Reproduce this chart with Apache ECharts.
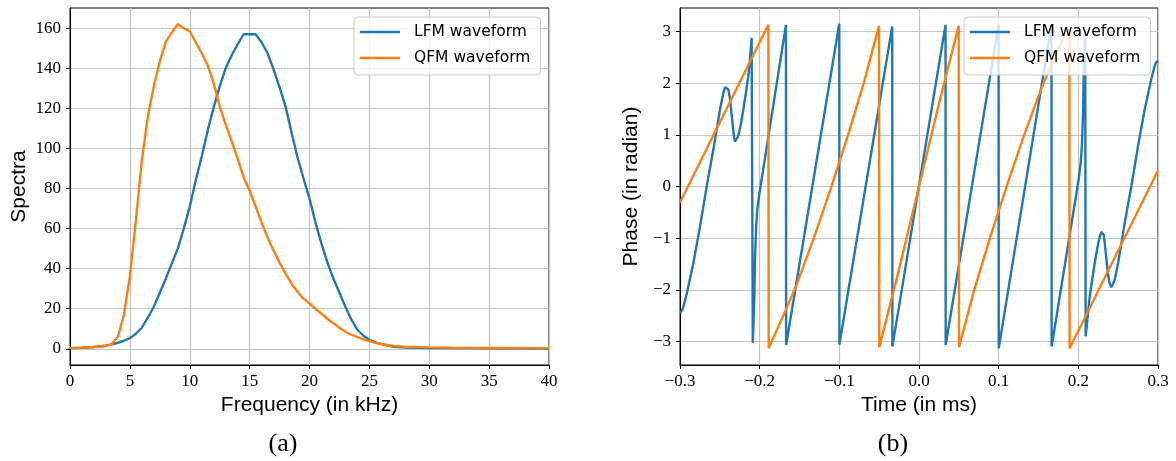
<!DOCTYPE html>
<html>
<head>
<meta charset="utf-8">
<script src="https://cdn.jsdelivr.net/npm/echarts@6/dist/echarts.min.js"></script>
<style>
html,body{margin:0;padding:0;background:#fff;}
#chart{width:1176px;height:461px;}
</style>
</head>
<body>
<div id="chart"></div>
<script>
// ---------- (a) spectra ----------
const freqKHz = [0,1,2,3,3.5,4,4.5,5,5.5,6,6.5,7,7.5,8,8.5,9,9.5,10,10.5,11,11.5,12,12.5,13,13.5,14,14.5,15,15.5,16,16.5,17,17.5,18,18.5,19,19.5,20,20.5,21,21.5,22,22.5,23,23.5,24,24.5,25,25.5,26,27,28,30,32,35,40];
const lfmSpectra = [0.3,0.5,0.9,1.5,2.2,3.0,4.0,5.3,7.5,10.5,15.5,21,28,35,42.5,50,60,71,84,96,109,120.5,131,140,146.5,152,157,157,157,153,147.5,139.5,130.5,121,108,95.5,85,75,63,52.5,43,35,28,21,14.5,9.5,6.5,4.5,3.2,2.3,1.0,0.6,0.4,0.3,0.2,0.1];
const qfmSpectra = [0.3,0.5,0.9,1.5,2.5,6,17,36,64,94,116,131,143.5,153.3,157.8,162,160,158.5,153,147.5,141.5,132.5,121,112,103.5,95,85.5,79,71,63,55.5,49,43,37.5,32.5,28.5,25,22.5,20,17.5,15,12.7,10.5,8.5,7,5.8,4.7,3.8,3.0,2.4,1.4,1.0,0.7,0.5,0.4,0.3];
const freqTicks = [0,5,10,15,20,25,30,35,40];
const spectraTicks = [0,20,40,60,80,100,120,140,160];

// ---------- (b) phase ----------
const lfmTime = [-0.3,-0.2975,-0.2958,-0.2916,-0.2833,-0.2749,-0.2665,-0.2582,-0.2498,-0.2456,-0.2435,-0.2414,-0.2393,-0.2373,-0.2352,-0.2331,-0.2320,-0.2310,-0.2299,-0.2289,-0.2268,-0.2237,-0.2205,-0.2174,-0.2143,-0.2122,-0.2101,-0.2092,-0.2086,-0.2068,-0.2059,-0.2045,-0.2030,-0.2005,-0.1976,
  -0.1670,-0.1668,-0.1001,-0.0999,-0.0336,-0.0334,0.0333,0.0335,0.0999,0.1001,0.1663,0.1665,
  0.1976,0.2005,0.2030,0.2045,0.2059,0.2068,0.2086,0.2092,0.2101,0.2122,0.2143,0.2174,0.2205,0.2237,0.2268,0.2289,0.2299,0.2310,0.2320,0.2331,0.2352,0.2373,0.2393,0.2414,0.2435,0.2456,0.2498,0.2582,0.2665,0.2749,0.2833,0.2916,0.2958,0.2975,0.3];
const lfmPhase = [-2.44,-2.40,-2.33,-2.08,-1.49,-0.78,0.0,0.71,1.49,1.81,1.92,1.95,1.88,1.70,1.40,1.08,0.94,0.87,0.86,0.88,0.98,1.20,1.49,1.80,2.13,2.45,2.88,2.90,-3.03,-2.2,-1.42,-0.8,-0.45,-0.15,0.13,
  3.13,-3.07,3.15,-3.06,3.10,-3.10,3.13,-3.07,3.13,-3.13,3.13,-3.10,
  -0.13,0.15,0.45,0.8,1.42,2.2,3.03,-2.90,-2.88,-2.45,-2.13,-1.80,-1.49,-1.20,-0.98,-0.88,-0.86,-0.87,-0.94,-1.08,-1.40,-1.70,-1.88,-1.95,-1.92,-1.81,-1.49,-0.71,0.0,0.78,1.49,2.08,2.33,2.40,2.44];
const qfmTime = [-0.3,-0.1891,-0.1887,-0.17,-0.1536,-0.132,-0.1104,-0.0896,-0.0686,-0.0502,-0.0498,-0.025,0,0.025,0.0498,0.0502,0.0686,0.0896,0.1104,0.132,0.1536,0.17,0.1887,0.1891,0.3];
const qfmPhase = [-0.31,3.13,-3.13,-2.49,-1.90,-1.0,-0.02,0.97,2.04,3.11,-3.11,-1.60,0.0,1.60,3.11,-3.11,-2.04,-0.97,0.02,1.0,1.90,2.49,3.13,-3.13,0.31];
const timeTicks = [-0.3,-0.2,-0.1,0.0,0.1,0.2,0.3];
const phaseTicks = [-3,-2,-1,0,1,2,3];

const BLUE = '#1f77b4', ORANGE = '#ff7f0e';
const zip = (a, b) => a.map((v, i) => [v, b[i]]);
const minus = s => String(s).replace('-', '\u2212');

const tickFont = {fontFamily: 'Liberation Serif', fontSize: 17, color: '#000'};
const titleFont = {fontFamily: 'Liberation Sans', fontSize: 21, color: '#000'};
const gridLine = {show: true, lineStyle: {color: '#c4c4c4', width: 1.2}};

function xAxis(idx, min, max, interval, ticks, fmt, name) {
  return {
    type: 'value', gridIndex: idx, min, max, interval,
    name, nameLocation: 'middle', nameGap: 28, nameTextStyle: titleFont,
    axisLine: {show: true, onZero: false, lineStyle: {color: '#000', width: 1}},
    axisTick: {show: true, length: 4, inside: false, lineStyle: {color: '#000', width: 1}},
    axisLabel: Object.assign({margin: 8, formatter: fmt}, tickFont),
    splitLine: gridLine
  };
}
function yAxis(idx, min, max, splitNumber, ticks, fmt, name, gap) {
  return {
    type: 'value', gridIndex: idx, min, max, splitNumber,
    name, nameLocation: 'middle', nameGap: gap, nameTextStyle: titleFont,
    axisLine: {show: true, onZero: false, lineStyle: {color: '#000', width: 1}},
    axisTick: {show: true, length: 4, customValues: ticks, lineStyle: {color: '#000', width: 1}},
    axisLabel: Object.assign({margin: 9, formatter: fmt, customValues: ticks}, tickFont),
    splitLine: gridLine
  };
}
function legend(left) {
  return {
    orient: 'vertical', left, top: 17,
    data: ['LFM waveform', 'QFM waveform'],
    icon: 'rect', itemWidth: 40, itemHeight: 2.5, itemGap: 8,
    padding: [6, 10, 8, 6],
    backgroundColor: 'rgba(255,255,255,0.8)', borderColor: '#cccccc', borderWidth: 1, borderRadius: 4,
    textStyle: {fontFamily: 'DejaVu Sans', fontSize: 15.5, color: '#000', lineHeight: 18, padding: [0, 0, 0, 9]}
  };
}
function line(name, xi, data, color, z) {
  return {name, type: 'line', xAxisIndex: xi, yAxisIndex: xi, data, showSymbol: false, symbol: 'none',
    lineStyle: {color, width: 2.4}, itemStyle: {color}, z, animation: false, clip: true};
}

const chart = echarts.init(document.getElementById('chart'), null, {renderer: 'canvas'});
chart.setOption({
  animation: false,
  backgroundColor: '#fff',
  grid: [
    {left: 70, top: 8, width: 479, height: 357, show: true, borderColor: '#000', borderWidth: 1, backgroundColor: 'transparent'},
    {left: 680, top: 8, width: 478, height: 357, show: true, borderColor: '#000', borderWidth: 1, backgroundColor: 'transparent'}
  ],
  xAxis: [
    xAxis(0, 0, 40, 5, freqTicks, v => String(v), 'Frequency (in kHz)'),
    xAxis(1, -0.3, 0.3, 0.1, timeTicks, v => minus(Number(v).toFixed(1)), 'Time (in ms)')
  ],
  yAxis: [
    yAxis(0, -8.1, 170.1, 9, spectraTicks, v => String(v), 'Spectra', 40),
    yAxis(1, -3.456, 3.456, 7, phaseTicks, v => minus(Math.round(v)), 'Phase (in radian)', 38)
  ],
  legend: [legend(354), legend(964)],
  series: [
    line('LFM waveform', 0, zip(freqKHz, lfmSpectra), BLUE, 2),
    line('QFM waveform', 0, zip(freqKHz, qfmSpectra), ORANGE, 3),
    line('LFM waveform', 1, zip(lfmTime, lfmPhase), BLUE, 2),
    line('QFM waveform', 1, zip(qfmTime, qfmPhase), ORANGE, 3)
  ],
  graphic: [
    {type: 'text', x: 283, y: 444, style: {text: '(a)', font: '26px "Liberation Serif"', fill: '#000', align: 'center', verticalAlign: 'middle'}},
    {type: 'text', x: 893, y: 444, style: {text: '(b)', font: '26px "Liberation Serif"', fill: '#000', align: 'center', verticalAlign: 'middle'}}
  ]
});
</script>
</body>
</html>
